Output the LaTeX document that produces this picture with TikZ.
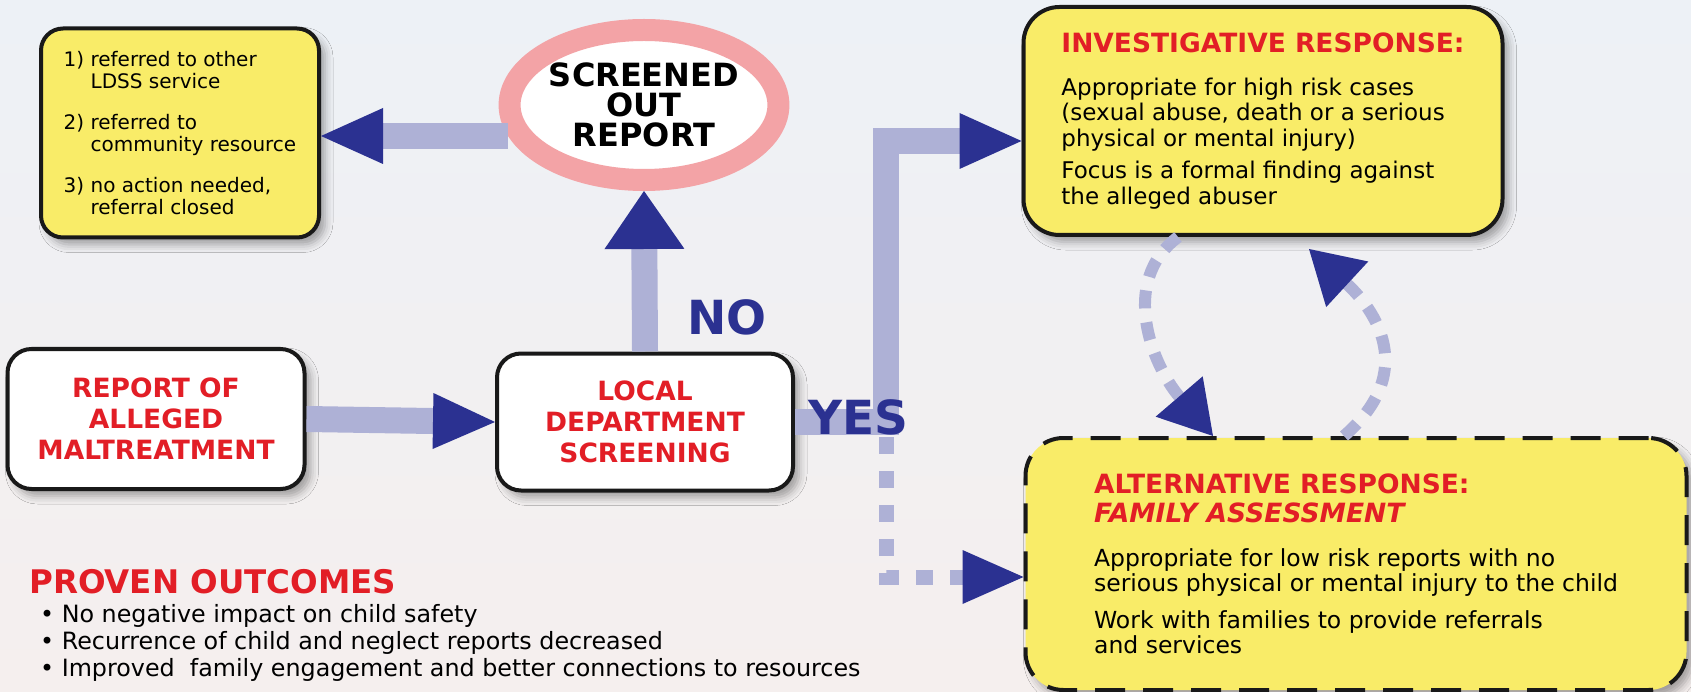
\documentclass[tikz,border=0pt]{standalone}
\usepackage{fontspec}
\setmainfont{DejaVu Sans}
\usetikzlibrary{arrows.meta,shapes.geometric,shadows.blur}

\definecolor{bgtop}{RGB}{237,241,246}
\definecolor{bgbottom}{RGB}{245,239,238}
\definecolor{boxyellow}{RGB}{249,236,104}
\definecolor{arrowblue}{RGB}{43,49,145}
\definecolor{shaftblue}{RGB}{174,177,214}
\definecolor{alertred}{RGB}{226,30,38}
\definecolor{ringpink}{RGB}{243,163,166}

\newcommand{\hd}[1]{{\color{alertred}\bfseries\fontsize{26.5}{31}\selectfont #1}}
\newcommand{\hang}{\hphantom{1)}\ }

\tikzset{
  panel/.style={draw=black!90, line width=4pt, rounded corners=24pt, inner sep=0pt,
    blur shadow={shadow xshift=6pt, shadow yshift=-7pt, shadow blur radius=8pt, shadow opacity=35}},
  whitebox/.style={panel, fill=white, text=alertred, align=center,
    font=\bfseries\fontsize{26.5}{31}\selectfont},
  yellowbox/.style={panel, fill=boxyellow, align=left},
  answer/.style={text=arrowblue, font=\bfseries\fontsize{47}{47}\selectfont, inner sep=0pt},
  flow/.style={draw=shaftblue, line width=26pt,
    -{Triangle[length=62pt,width=56pt,color=arrowblue,line width=0pt]}},
  dashflow/.style={draw=shaftblue, line width=15pt, dash pattern=on 17pt off 17pt,
    -{Triangle[length=61pt,width=54pt,color=arrowblue,line width=0pt]}},
  loopflow/.style={draw=shaftblue, line width=12pt, dash pattern=on 18pt off 14pt,
    -{Triangle[length=52pt,width=62pt,color=arrowblue,line width=0pt]}}
}

\begin{document}
\begin{tikzpicture}[x=1pt,y=-1pt]
  \useasboundingbox (0,0) rectangle (1691,692);
  \fill[top color=bgtop,bottom color=bgbottom] (0,0) rectangle (1691,692);

  % boxes
  \node[yellowbox, rounded corners=22pt, minimum width=278pt, minimum height=209pt,
        font=\fontsize{20}{22}\selectfont] (options) at (180,133)
        {1)\ referred to other\\\hang LDSS service\\[19pt]
         2)\ referred to\\\hang community resource\\[19pt]
         3)\ no action needed,\\\hang referral closed};
  \node[ellipse, draw=ringpink, line width=22pt, fill=white, minimum width=236pt,
        minimum height=150pt, inner sep=0pt, align=center,
        font=\bfseries\fontsize{32}{30}\selectfont] (screened) at (644,105)
        {SCREENED\\OUT\\REPORT};
  \node[whitebox, minimum width=297pt, minimum height=140pt] (report) at (156,419)
        {REPORT OF\\ALLEGED\\MALTREATMENT};
  \node[whitebox, minimum width=296pt, minimum height=137pt] (local) at (645,422)
        {LOCAL\\DEPARTMENT\\SCREENING};
  \node[yellowbox, rounded corners=36pt, minimum width=479pt, minimum height=228pt,
        font=\fontsize{23}{25.5}\selectfont] (invest) at (1263,121)
        {\hd{INVESTIGATIVE RESPONSE:}\\[17pt]
         Appropriate for high risk cases\\
         (sexual abuse, death or a serious\\
         physical or mental injury)\\[7pt]
         Focus is a formal finding against\\
         the alleged abuser};
  \node[yellowbox, dash pattern=on 30pt off 18pt, rounded corners=38pt,
        minimum width=661pt, minimum height=252pt,
        font=\fontsize{23.5}{25}\selectfont] (alt) at (1356,564)
        {\hd{ALTERNATIVE RESPONSE:}\\[4pt]
         \hd{\itshape FAMILY ASSESSMENT}\\[19pt]
         Appropriate for low risk reports with no\\
         serious physical or mental injury to the child\\[12pt]
         Work with families to provide referrals\\
         and services};

  % connectors
  \coordinate (outleft) at ([xshift=9pt,yshift=-31pt]screened.west);
  \coordinate (yesbend) at (886,141);
  \coordinate (yesfork) at (886,437);
  \coordinate (altin) at (886,577);
  \draw[flow] (outleft) -- (options.east |- outleft);
  \draw[flow, -{Triangle[length=58pt,width=80pt,color=arrowblue,line width=0pt]}]
        (local.north) -- (screened.south);
  \draw[flow] (report.east) -- (local.west);
  \draw[flow] (local.east) -| (yesbend) -- (invest.west |- yesbend);
  \draw[dashflow] (yesfork) -- (altin) -- (alt.west |- altin);
  \draw[loopflow] ([xshift=-85pt]invest.south) .. controls +(-60,45) and +(-60,-70)
        .. ([xshift=-143pt]alt.north);
  \draw[loopflow] ([xshift=-12pt]alt.north) .. controls +(75,-65) and +(65,60)
        .. ([xshift=46pt,yshift=-12pt]invest.south);

  % labels
  \node[answer] (no) at (727,317) {NO};
  \node[answer] (yes) at (858,417) {YES};

  % outcomes
  \node[anchor=west, inner sep=0pt, text=alertred,
        font=\bfseries\fontsize{32.5}{32}\selectfont] (outcomes) at (29,582)
        {PROVEN OUTCOMES};
  \node[anchor=north west, inner sep=0pt, align=left,
        font=\fontsize{23.8}{27}\selectfont] (results) at (40,604)
        {• No negative impact on child safety\\
         • Recurrence of child and neglect reports decreased\\
         • Improved\ \ family engagement and better connections to resources};
\end{tikzpicture}
\end{document}
